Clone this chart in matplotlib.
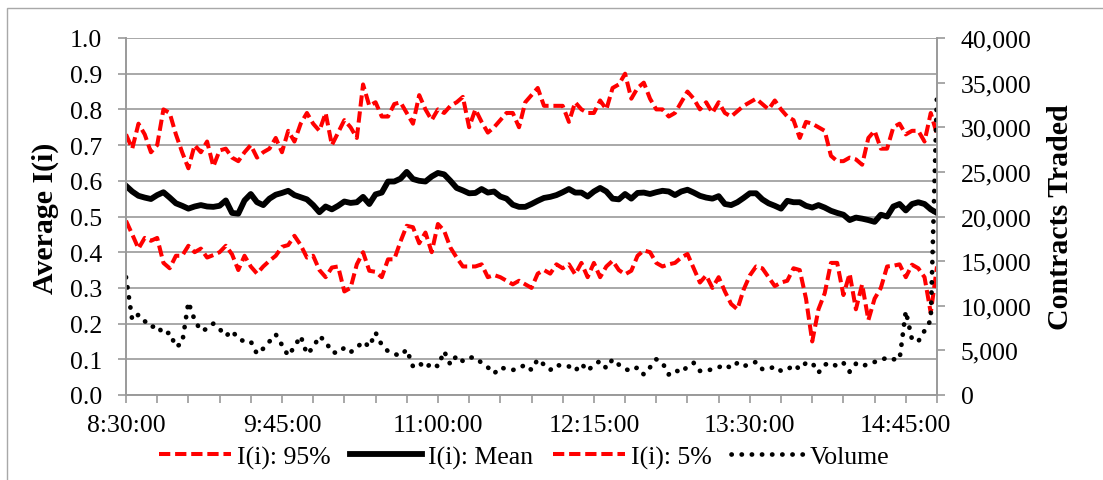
import numpy as np
import matplotlib
matplotlib.use("Agg")
import matplotlib.pyplot as plt
from matplotlib.patches import Rectangle

plt.rcParams["font.family"] = "Liberation Serif"

# minutes after 8:30, sampled every 3 minutes up to 15:00
minutes = np.arange(0, 391, 3)

i_95 = [0.73, 0.69, 0.76, 0.73, 0.68, 0.70, 0.80, 0.79, 0.73, 0.68,
        0.635, 0.70, 0.68, 0.71, 0.64, 0.685, 0.69, 0.665, 0.655, 0.68,
        0.70, 0.665, 0.68, 0.69, 0.72, 0.68, 0.74, 0.71, 0.76, 0.79,
        0.76, 0.74, 0.79, 0.70, 0.735, 0.77, 0.75, 0.72, 0.87, 0.81,
        0.82, 0.78, 0.78, 0.815, 0.82, 0.79, 0.76, 0.84, 0.80, 0.77,
        0.80, 0.79, 0.81, 0.82, 0.835, 0.75, 0.80, 0.765, 0.735, 0.75,
        0.77, 0.79, 0.79, 0.75, 0.82, 0.84, 0.86, 0.81, 0.81, 0.81,
        0.81, 0.765, 0.82, 0.80, 0.79, 0.79, 0.825, 0.80, 0.86, 0.87,
        0.90, 0.83, 0.86, 0.875, 0.83, 0.80, 0.80, 0.78, 0.79, 0.82,
        0.85, 0.83, 0.80, 0.82, 0.79, 0.82, 0.79, 0.78, 0.795, 0.81,
        0.82, 0.83, 0.815, 0.80, 0.825, 0.80, 0.78, 0.77, 0.72, 0.765,
        0.76, 0.75, 0.74, 0.67, 0.655, 0.655, 0.665, 0.66, 0.645, 0.72,
        0.74, 0.69, 0.69, 0.75, 0.76, 0.73, 0.74, 0.74, 0.71, 0.79,
        0.73]

i_mean = [0.586, 0.57, 0.558, 0.553, 0.549, 0.56, 0.568, 0.553, 0.537, 0.53,
          0.522, 0.528, 0.532, 0.528, 0.527, 0.53, 0.545, 0.51, 0.508, 0.545,
          0.563, 0.54, 0.532, 0.55, 0.561, 0.566, 0.572, 0.56, 0.554, 0.548,
          0.532, 0.512, 0.528, 0.52, 0.53, 0.542, 0.538, 0.54, 0.555, 0.535,
          0.562, 0.567, 0.598, 0.598, 0.606, 0.625, 0.605, 0.60, 0.598, 0.612,
          0.622, 0.618, 0.60, 0.58, 0.573, 0.565, 0.566, 0.577, 0.567, 0.57,
          0.556, 0.55, 0.533, 0.527, 0.527, 0.535, 0.544, 0.552, 0.555, 0.56,
          0.568, 0.577, 0.567, 0.567, 0.556, 0.57, 0.58, 0.57, 0.55, 0.548,
          0.563, 0.55, 0.566, 0.567, 0.563, 0.568, 0.572, 0.57, 0.56, 0.57,
          0.575, 0.567, 0.558, 0.553, 0.55, 0.557, 0.535, 0.532, 0.54, 0.552,
          0.565, 0.565, 0.548, 0.537, 0.53, 0.522, 0.544, 0.54, 0.54, 0.53,
          0.525, 0.532, 0.525, 0.516, 0.51, 0.505, 0.49, 0.497, 0.494, 0.49,
          0.485, 0.505, 0.50, 0.528, 0.535, 0.517, 0.535, 0.54, 0.535, 0.52,
          0.51]

i_5 = [0.488, 0.45, 0.41, 0.44, 0.432, 0.44, 0.37, 0.355, 0.39, 0.39,
       0.418, 0.40, 0.41, 0.385, 0.392, 0.40, 0.418, 0.394, 0.35, 0.39,
       0.36, 0.34, 0.36, 0.376, 0.39, 0.415, 0.42, 0.446, 0.42, 0.385,
       0.39, 0.35, 0.33, 0.357, 0.36, 0.29, 0.30, 0.366, 0.40, 0.348,
       0.345, 0.33, 0.38, 0.38, 0.43, 0.474, 0.47, 0.425, 0.455, 0.40,
       0.479, 0.46, 0.413, 0.385, 0.36, 0.36, 0.36, 0.366, 0.33, 0.336,
       0.33, 0.32, 0.31, 0.32, 0.31, 0.30, 0.34, 0.35, 0.34, 0.366,
       0.355, 0.366, 0.338, 0.37, 0.33, 0.37, 0.33, 0.36, 0.376, 0.35,
       0.338, 0.348, 0.39, 0.405, 0.40, 0.37, 0.36, 0.366, 0.37, 0.385,
       0.395, 0.355, 0.315, 0.335, 0.30, 0.33, 0.29, 0.255, 0.24, 0.295,
       0.335, 0.36, 0.355, 0.33, 0.305, 0.315, 0.32, 0.355, 0.35, 0.27,
       0.15, 0.24, 0.285, 0.37, 0.37, 0.28, 0.34, 0.24, 0.31, 0.21,
       0.27, 0.30, 0.36, 0.362, 0.366, 0.33, 0.365, 0.355, 0.33, 0.23,
       0.36]

volume = [13200, 8400, 9000, 8280, 7600, 7800, 6800, 7000, 5400, 5800,
          10400, 8400, 7200, 7400, 8000, 7400, 6600, 7200, 6300, 6000,
          6000, 4600, 5200, 6000, 6800, 5600, 4400, 5400, 6600, 4600,
          5300, 6600, 6000, 4800, 4700, 5300, 4800, 5300, 6000, 5400,
          7000, 5600, 4900, 4600, 4400, 5100, 3200, 3600, 3000, 3600,
          3200, 4900, 3400, 4400, 3800, 4200, 4200, 3600, 3100, 2400,
          3100, 2900, 2800, 3000, 3400, 2800, 4000, 3400, 2800, 3400,
          3200, 3200, 2700, 3500, 2700, 3400, 3800, 3000, 4000, 3400,
          2900, 2700, 3100, 2300, 3100, 4000, 3600, 2300, 2800, 2500,
          3200, 3600, 2700, 2700, 2900, 3100, 3400, 3000, 3600, 3200,
          3500, 3700, 2900, 2900, 3200, 2700, 2800, 3400, 2900, 3600,
          3600, 2500, 3400, 3600, 3200, 3600, 2600, 3500, 3200, 3500,
          3700, 3900, 4200, 4000, 4000, 9400, 6200, 6000, 7200, 8400,
          34000]

time_labels = ["8:30:00", "9:45:00", "11:00:00", "12:15:00", "13:30:00", "14:45:00"]

grey = "#9a9a9a"

fig = plt.figure(figsize=(11.03, 4.81), dpi=100)
ax = fig.add_axes([126 / 1103, 1 - 396 / 481, 811 / 1103, 357 / 481])
ax2 = ax.twinx()

l95, = ax.plot(minutes, i_95, color="red", lw=2.9, linestyle=(0, (2.8, 1.2)),
               label="I(i): 95%")
lmean, = ax.plot(minutes, i_mean, color="black", lw=4.2, label="I(i): Mean")
l5, = ax.plot(minutes, i_5, color="red", lw=2.9, linestyle=(0, (2.8, 1.2)),
              label="I(i): 5%")
lvol, = ax2.plot(minutes, volume, color="black", lw=3.4, linestyle=(0, (0.05, 2.1)),
                 dash_capstyle="round", label="Volume")

ax.set_xlim(0, 390)
ax.set_ylim(0, 1.0)
ax2.set_ylim(0, 40000)

ax.set_yticks(np.arange(0, 1.01, 0.1))
ax.set_yticklabels([f"{v:.1f}" for v in np.arange(0, 1.01, 0.1)])
ax2.set_yticks(np.arange(0, 40001, 5000))
ax2.set_yticklabels([f"{v:,}" for v in range(0, 40001, 5000)])

xt = np.arange(0, 391, 15)
ax.set_xticks(xt)
lab = [""] * len(xt)
for i, s in enumerate(time_labels):
    lab[i * 5] = s
ax.set_xticklabels(lab)

ax.grid(axis="y", color=grey, lw=1.2)
ax.set_axisbelow(True)
for a in (ax, ax2):
    a.spines["top"].set_visible(False)
    for s in ("left", "right", "bottom"):
        a.spines[s].set_color(grey)
        a.spines[s].set_linewidth(1.2)
ax.tick_params(axis="both", direction="out", length=6, width=1.2, color=grey,
               labelsize=18.5)
ax.tick_params(axis="y", pad=11)
ax.tick_params(axis="x", pad=8)
ax2.tick_params(axis="y", direction="out", length=6, width=1.2, color=grey,
                labelsize=18.5, pad=11)

fig.text(45 / 1103, 1 - 218 / 481, "Average I(i)", rotation=90, ha="center",
         va="center", fontsize=21.5, fontweight="bold")
fig.text(1060 / 1103, 1 - 217 / 481, "Contracts Traded", rotation=90, ha="center",
         va="center", fontsize=21.5, fontweight="bold")

fig.legend(handles=[l95, lmean, l5, lvol], loc="center", ncol=4,
           bbox_to_anchor=(524 / 1103, 1 - 458 / 481), frameon=False,
           fontsize=18.5, handlelength=2.8, handletextpad=0.25, columnspacing=0.75,
           borderpad=0, borderaxespad=0)

fig.patches.append(Rectangle((7 / 1103, -0.1), 1.2, 0.1 + 1 - 9 / 481,
                             transform=fig.transFigure, fill=False,
                             edgecolor="#a8a8a8", lw=1.0))

plt.savefig("out.png", dpi=100)
